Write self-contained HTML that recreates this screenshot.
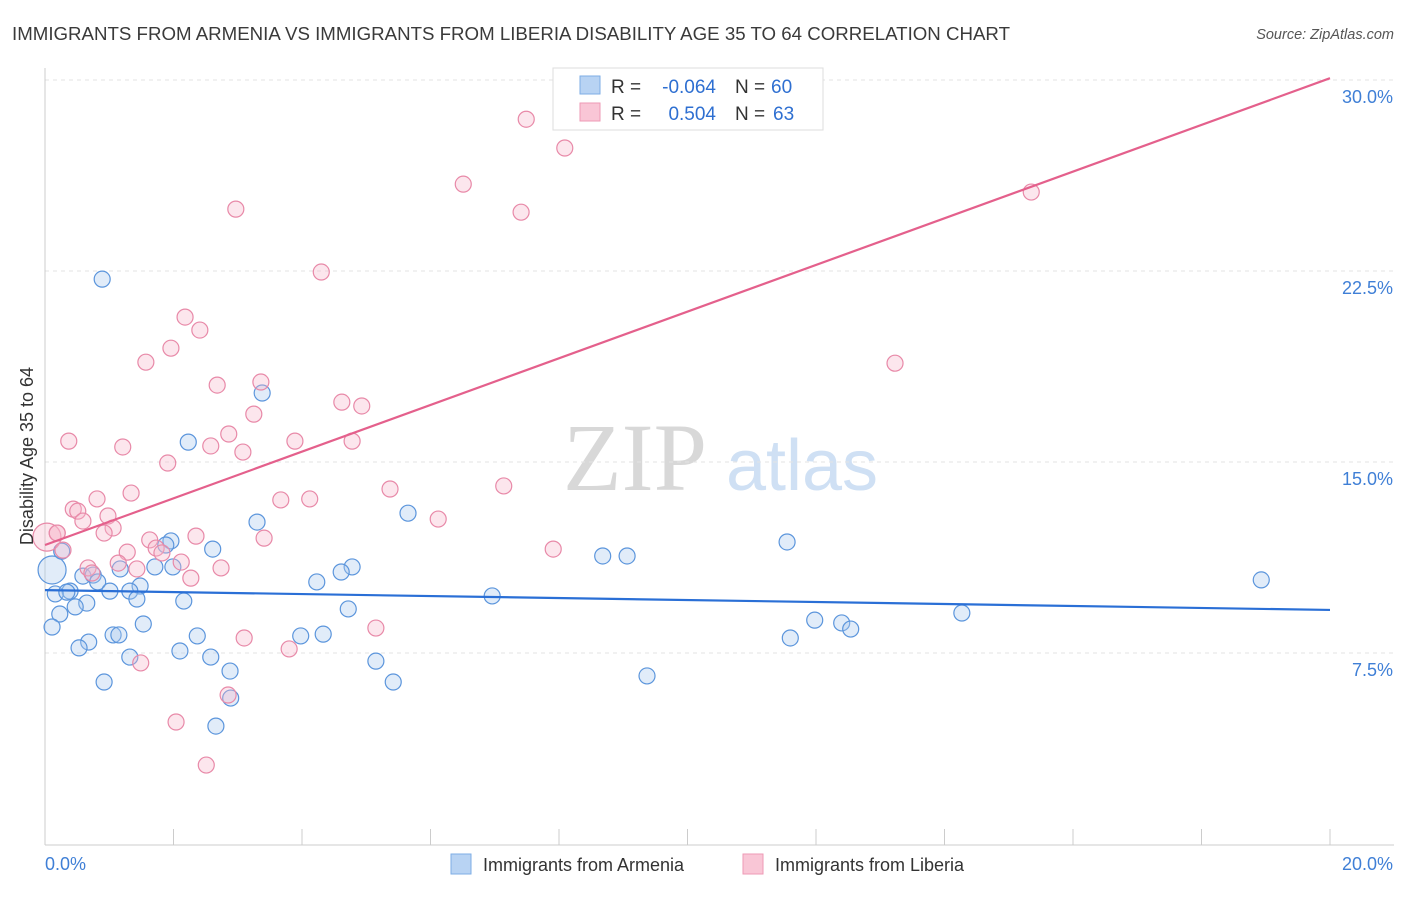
<!DOCTYPE html>
<html><head><meta charset="utf-8">
<style>
body{margin:0;background:#fff;font-family:"Liberation Sans",sans-serif;}
svg text{font-family:"Liberation Sans",sans-serif;}
</style></head>
<body>
<svg id="chart" width="1406" height="892" viewBox="0 0 1406 892" xmlns="http://www.w3.org/2000/svg">
<text x="12" y="40" font-size="18" textLength="998" lengthAdjust="spacingAndGlyphs" fill="#3a3a3a">IMMIGRANTS FROM ARMENIA VS IMMIGRANTS FROM LIBERIA DISABILITY AGE 35 TO 64 CORRELATION CHART</text>
<text x="1394" y="39" font-size="14.5" fill="#555" text-anchor="end" font-style="italic">Source: ZipAtlas.com</text>
<g>
<text x="635" y="490" font-size="96" fill="#d8d8d8" text-anchor="middle" font-family="Liberation Serif" style="font-family:'Liberation Serif',serif">ZIP</text>
<text x="802" y="490" font-size="72" fill="#cfe0f4" text-anchor="middle">atlas</text>
</g>
<g id="grid"></g>
<g id="axes"></g>
<g id="marks"></g>
<text transform="translate(33,456) rotate(-90)" font-size="18" fill="#333" text-anchor="middle">Disability Age 35 to 64</text>
<g>
<rect x="553" y="68" width="270" height="62" fill="#fff" stroke="#ddd"/>
<rect x="580" y="76" width="20" height="18" fill="#b8d3f3" stroke="#7eaee6"/>
<rect x="580" y="103" width="20" height="18" fill="#f9c6d6" stroke="#ee9ab5"/>
<text x="611" y="93" font-size="19" fill="#333">R =</text>
<text x="716" y="93" font-size="19" fill="#2e6fd1" text-anchor="end">-0.064</text>
<text x="735" y="93" font-size="19" fill="#333">N =</text>
<text x="771" y="93" font-size="19" fill="#2e6fd1">60</text>
<text x="611" y="120" font-size="19" fill="#333">R =</text>
<text x="716" y="120" font-size="19" fill="#2e6fd1" text-anchor="end">0.504</text>
<text x="735" y="120" font-size="19" fill="#333">N =</text>
<text x="773" y="120" font-size="19" fill="#2e6fd1">63</text>
</g>
<g>
<rect x="451" y="854" width="20" height="20" fill="#b8d3f3" stroke="#7eaee6"/>
<text x="483" y="871" font-size="18" fill="#333">Immigrants from Armenia</text>
<rect x="743" y="854" width="20" height="20" fill="#f9c6d6" stroke="#ee9ab5"/>
<text x="775" y="871" font-size="18" fill="#333">Immigrants from Liberia</text>
</g>
</svg>
<script>
const yTicks=[7.5,15,22.5,30];
const yTickLabels=["7.5%","15.0%","22.5%","30.0%"];
const xTickValues=[0,2,4,6,8,10,12,14,16,18,20];
const xTickLabels=["0.0%","20.0%"];
const blueX=[0.89,3.38,2.23,3.30,5.65,11.55,8.68,9.06,18.93,0.11,0.26,1.96,1.88,2.61,4.78,4.61,4.23,1.17,1.71,1.99,0.59,0.75,0.82,0.39,0.16,0.34,1.01,1.48,1.32,1.43,0.65,0.47,2.16,0.23,4.72,6.96,11.98,12.40,12.54,14.27,0.11,1.53,1.06,1.15,2.37,3.98,4.33,0.68,0.53,2.10,2.58,1.32,5.15,2.88,9.37,11.60,0.92,5.42,2.89,2.66];
const blueY=[22.18,17.71,15.78,12.64,12.99,11.86,11.31,11.31,10.37,10.76,11.50,11.90,11.74,11.58,10.88,10.68,10.29,10.80,10.88,10.88,10.52,10.56,10.29,9.93,9.82,9.89,9.93,10.13,9.93,9.62,9.46,9.31,9.54,9.03,9.23,9.74,8.79,8.68,8.44,9.07,8.52,8.64,8.21,8.21,8.17,8.17,8.24,7.93,7.70,7.58,7.34,7.34,7.18,6.79,6.60,8.09,6.36,6.36,5.73,4.63];
const pinkX=[7.49,8.09,6.51,7.41,2.97,15.35,4.30,2.18,2.41,1.96,1.57,13.23,3.36,2.68,4.62,4.93,3.25,2.86,0.37,1.21,2.58,3.89,4.78,3.08,1.91,5.37,7.14,0.81,1.34,3.67,4.12,0.44,0.51,0.98,0.59,6.12,0.03,0.19,1.06,0.92,2.35,3.41,1.63,1.73,1.82,2.12,0.28,1.28,7.91,0.67,0.73,1.14,1.43,2.74,2.27,5.15,3.10,3.80,1.49,2.85,2.04,2.51,0.19];
const pinkY=[28.46,27.33,25.91,24.81,24.93,25.60,22.46,20.69,20.18,19.47,18.92,18.88,18.14,18.02,17.35,17.20,16.88,16.10,15.82,15.59,15.63,15.82,15.82,15.39,14.96,13.94,14.06,13.55,13.78,13.51,13.55,13.15,13.07,12.88,12.68,12.76,12.05,12.21,12.41,12.21,12.09,12.01,11.94,11.62,11.43,11.07,11.54,11.46,11.58,10.84,10.64,11.03,10.80,10.84,10.44,8.48,8.09,7.66,7.11,5.85,4.79,3.10,12.21];
const blueBig=[9];
const pinkBig=[36];
const blueTrend=[9.97,9.19];
const pinkTrend=[11.74,30.07];

const X0=45,X1=1330,Y0=844,YPER=191/7.5;
const sx=v=>X0+(v/20)*(X1-X0);
const sy=v=>Y0-v*YPER;
const NS="http://www.w3.org/2000/svg";
function mk(tag,attrs,parent){const e=document.createElementNS(NS,tag);for(const k in attrs)e.setAttribute(k,attrs[k]);parent.appendChild(e);return e;}
const grid=document.getElementById('grid'),axes=document.getElementById('axes'),marks=document.getElementById('marks');
yTicks.forEach((t,i)=>{
  const l=mk('line',{x1:X0,x2:1394,y1:sy(t),y2:sy(t),stroke:'#e3e3e3','stroke-dasharray':'4,4'},grid);
  
  
  const tx=mk('text',{x:1393,y:sy(t)+23,'font-size':18,fill:'#3f7fd6','text-anchor':'end'},axes);
  tx.textContent=yTickLabels[i];
  
  
});
const ya=mk('line',{x1:X0,x2:X0,y1:68,y2:845,stroke:'#ccc'},axes);


const xa=mk('line',{x1:X0,x2:1394,y1:845,y2:845,stroke:'#ccc'},axes);


xTickValues.forEach(v=>{
  const t=mk('line',{x1:sx(v),x2:sx(v),y1:829,y2:845,stroke:'#ccc'},axes);
  
  
});
const xl0=mk('text',{x:45,y:870,'font-size':18,fill:'#3f7fd6'},axes);
xl0.textContent=xTickLabels[0];


const xl1=mk('text',{x:1393,y:870,'font-size':18,fill:'#3f7fd6','text-anchor':'end'},axes);
xl1.textContent=xTickLabels[1];



function pts(xs,ys,big,fill,stroke,name){
  xs.forEach((x,i)=>{
    const r=big.includes(i)?14:8;
    const c=mk('circle',{cx:sx(x),cy:sy(ys[i]),r:r,fill:fill,'fill-opacity':0.35,stroke:stroke,'stroke-width':1.2},marks);
    
    
  });
}
pts(blueX,blueY,blueBig,'#a9c8ef','#5b95dc','armenia-point');
pts(pinkX,pinkY,pinkBig,'#f6b6cb','#e889a8','liberia-point');
const bl=mk('line',{x1:sx(0),y1:sy(blueTrend[0]),x2:sx(20),y2:sy(blueTrend[1]),stroke:'#2a6fd6','stroke-width':2.2},marks);


const pl=mk('line',{x1:sx(0),y1:sy(pinkTrend[0]),x2:sx(20),y2:sy(pinkTrend[1]),stroke:'#e4608c','stroke-width':2.2},marks);


</script>
</body></html>
